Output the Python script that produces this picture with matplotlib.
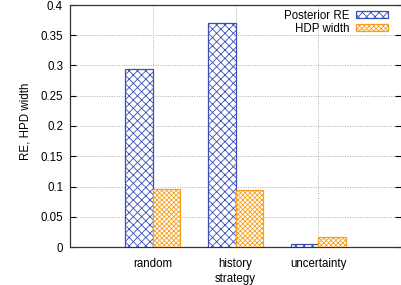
import matplotlib
matplotlib.use("Agg")
import matplotlib.pyplot as plt
import numpy as np

plt.rcParams['font.family'] = ['Liberation Sans', 'DejaVu Sans']
plt.rcParams['hatch.linewidth'] = 0.6

strategies = ['random', 'history', 'uncertainty']
posterior_re = [0.294, 0.371, 0.0055]
hpd_width = [0.0965, 0.094, 0.0165]

blue = '#3a4fb5'
orange = '#f5a020'
fs = 8.3

fig = plt.figure(figsize=(4.01, 2.85), dpi=100)
ax = fig.add_axes([70 / 401, 38 / 285, 331 / 401, 242 / 285])

x = np.arange(1, len(strategies) + 1)
w = 0.33
ax.bar(x - w / 2, posterior_re, w, facecolor='white', edgecolor=blue,
       hatch='xxxx', linewidth=0.9, label='Posterior RE', zorder=3)
ax.bar(x + w / 2, hpd_width, w, facecolor='white', edgecolor=orange,
       hatch='xxxxxxx', linewidth=0.9, label='HDP width', zorder=3)

ax.set_xlim(0, 4)
ax.set_ylim(0, 0.4)
ax.set_xticks(x)
ax.set_xticklabels(strategies)
ax.set_yticks(np.arange(0, 0.41, 0.05))
ax.set_yticklabels(['0', '0.05', '0.1', '0.15', '0.2', '0.25', '0.3', '0.35', '0.4'])
ax.tick_params(axis='y', direction='in', length=4, width=0.8, labelsize=fs,
               right=True, pad=5)
ax.tick_params(axis='x', length=0, labelsize=fs, pad=8)
ax.grid(True, color='#aaaaaa', linestyle=(0, (1, 1.5)), linewidth=0.7)
ax.set_axisbelow(True)
for s in ['left', 'top', 'bottom']:
    ax.spines[s].set_linewidth(0.9)
    ax.spines[s].set_color('#333333')
ax.spines['right'].set_visible(False)

ax.set_xlabel('strategy', fontsize=fs, labelpad=2)
ax.set_ylabel('RE, HPD width', fontsize=fs)
ax.yaxis.set_label_coords(-0.115, 0.52)

leg = ax.legend(loc='upper right', frameon=False, fontsize=fs, markerfirst=False,
                handlelength=2.8, handleheight=0.55, labelspacing=0.1,
                borderaxespad=0.0, borderpad=0.4, handletextpad=0.55,
                bbox_to_anchor=(0.975, 1.0))
for t in leg.get_texts():
    t.set_ha('right')

fig.savefig('out.png', dpi=100)
